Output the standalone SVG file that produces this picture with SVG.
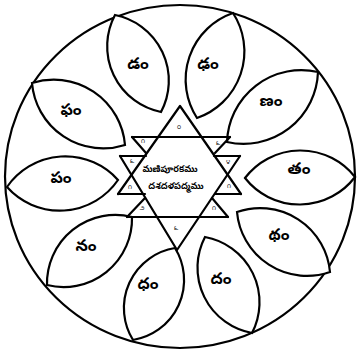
<svg xmlns="http://www.w3.org/2000/svg" width="357" height="350" viewBox="0 0 357 350">
<style>
.ln{fill:none;stroke:#000;stroke-width:2.2;stroke-linecap:round;stroke-linejoin:round}
.pt{fill:#fff;stroke:#000;stroke-width:2.2}
.lb{font-family:"Noto Sans Telugu","Noto Sans",sans-serif;font-size:16px;font-weight:bold;fill:#000;text-anchor:middle;dominant-baseline:central}
.ct{font-family:"Noto Sans Telugu","Noto Sans",sans-serif;font-size:9px;font-weight:bold;fill:#000;text-anchor:middle;dominant-baseline:central}
.nm{font-family:"Noto Sans Telugu","Noto Sans",sans-serif;font-size:6px;fill:#000;text-anchor:middle;dominant-baseline:central}
</style>
<rect width="357" height="350" fill="#fff"/>
<ellipse id="outer" cx="180" cy="176.5" rx="175" ry="171.5" class="ln"/>
<g id="petal-1"><path class="pt" d="M115,15 A66.9,66.9 0 0 1 161,112 A66.9,66.9 0 0 1 115,15Z"/><text class="lb" x="138" y="66">డం</text></g>
<g id="petal-2"><path class="pt" d="M233,13 A70.5,70.5 0 0 1 197,118 A70.5,70.5 0 0 1 233,13Z"/><text class="lb" x="208" y="66">ఢం</text></g>
<g id="petal-3"><path class="pt" d="M318,72 A74.5,74.5 0 0 1 227,142 A74.5,74.5 0 0 1 318,72Z"/><text class="lb" x="271" y="103">ణం</text></g>
<g id="petal-4"><path class="pt" d="M355,177 A69.5,69.5 0 0 1 245,178 A69.5,69.5 0 0 1 355,177Z"/><text class="lb" x="299" y="171">తం</text></g>
<g id="petal-5"><path class="pt" d="M330,272 A70.2,70.2 0 0 1 237,212 A70.2,70.2 0 0 1 330,272Z"/><text class="lb" x="279" y="237">థం</text></g>
<g id="petal-6"><path class="pt" d="M252,333 A66.4,66.4 0 0 1 205,237 A66.4,66.4 0 0 1 252,333Z"/><text class="lb" x="221" y="281">దం</text></g>
<g id="petal-7"><path class="pt" d="M133,340 A60.8,60.8 0 0 1 175,248 A60.8,60.8 0 0 1 133,340Z"/><text class="lb" x="148" y="286">ధం</text></g>
<g id="petal-8"><path class="pt" d="M47,285 A68.4,68.4 0 0 1 132,217 A68.4,68.4 0 0 1 47,285Z"/><text class="lb" x="86" y="248">నం</text></g>
<g id="petal-9"><path class="pt" d="M7,187 A70.7,70.7 0 0 1 118,180 A70.7,70.7 0 0 1 7,187Z"/><text class="lb" x="61" y="180">పం</text></g>
<g id="petal-10"><path class="pt" d="M32,83 A71.4,71.4 0 0 1 125,145 A71.4,71.4 0 0 1 32,83Z"/><text class="lb" x="71" y="112">ఫం</text></g>
<g id="connectors" class="ln">
<path d="M118,194 L180,106 L241,194"/>
<path d="M120,156 L177,250 L240,156"/>
<path d="M132,137 H230"/>
<path d="M127,217 H228"/>
<path d="M120,156 H146"/>
<path d="M118,194 H145"/>
<path d="M214,156 H240"/>
<path d="M215,194 H241"/>
<path d="M132,137 L146,153"/>
<path d="M230,137 L215,153"/>
<path d="M127,217 L145,198"/>
<path d="M228,217 L212,198"/>
</g>
<g id="center">
<text class="ct" x="170" y="170">మణిపూరకము</text>
<text class="ct" x="176" y="187">దశదళపద్మము</text>
</g>
<g id="numbers">
<text class="nm" x="179" y="128">౦</text>
<text class="nm" x="143" y="142">౧</text>
<text class="nm" x="132" y="162">౬</text>
<text class="nm" x="130" y="188">౧</text>
<text class="nm" x="142" y="209">౨</text>
<text class="nm" x="176" y="229">౬</text>
<text class="nm" x="218" y="144">౬</text>
<text class="nm" x="228" y="163">౪</text>
<text class="nm" x="229" y="187">౧</text>
<text class="nm" x="214" y="209">౧</text>
</g>
</svg>
